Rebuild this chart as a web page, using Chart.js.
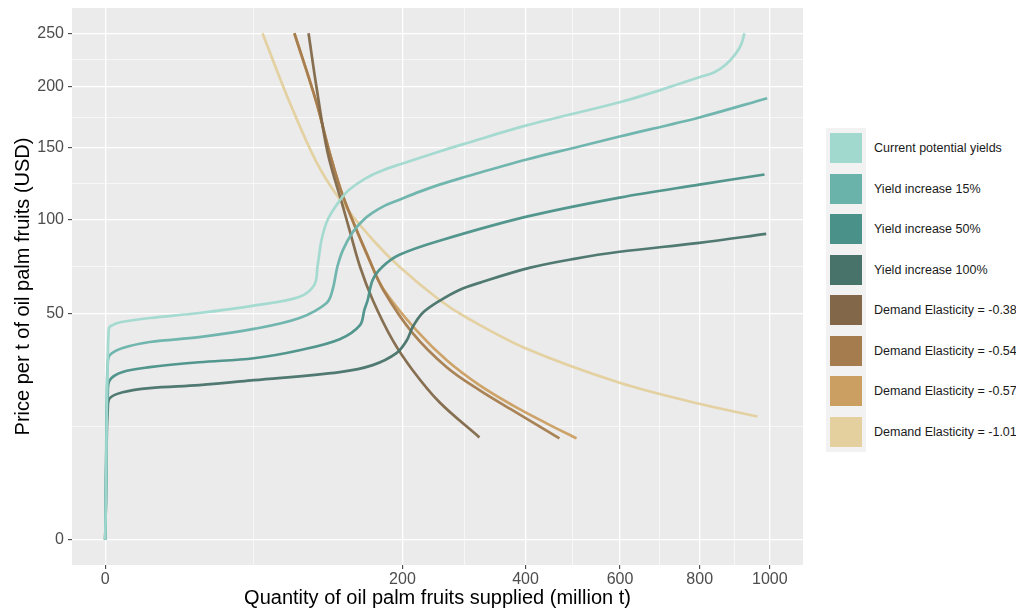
<!DOCTYPE html>
<html>
<head>
<meta charset="utf-8">
<title>Oil palm supply and demand</title>
<script src="https://cdn.jsdelivr.net/npm/chart.js@4.4.1/dist/chart.umd.min.js"></script>
<style>
html, body { margin:0; padding:0; background:#fff; overflow:hidden; }
body { width:1016px; height:611px; position:relative; font-family:"Liberation Sans", Arial, sans-serif; }
#wrap { position:absolute; left:0; top:0; width:810px; height:611px; }
#legend-bg { position:absolute; left:826px; top:128px; width:40px; height:324px; background:#f2f2f2; }
.key { position:absolute; left:830px; width:32px; height:30px; }
.lab { position:absolute; left:874px; font-size:12.5px; color:#1a1a1a; white-space:nowrap; line-height:30px; }
</style>
</head>
<body>
<div id="wrap"><canvas id="supplyChart" width="810" height="611"></canvas></div>
<div id="legend-bg"></div>
<div id="legend"></div>
<script>

/* ========================= */
/* DATA (million t, USD/t) */
/* ========================= */

const seriesNames = [
  "Current potential yields",
  "Yield increase 15%",
  "Yield increase 50%",
  "Yield increase 100%",
  "Demand Elasticity = -0.38",
  "Demand Elasticity = -0.54",
  "Demand Elasticity = -0.57",
  "Demand Elasticity = -1.01"
];

const seriesColors = [
  "#a1d9cf", "#6ab3ab", "#4a9189", "#48736a",
  "#826849", "#a57c4d", "#cb9f62", "#e4d09e"
];

const xTickValues = [0, 200, 400, 600, 800, 1000];
const yTickValues = [0, 50, 100, 150, 200, 250];

// supply curves
const qCurrent = [0, 0.001, 0.005, 0.014, 0.028, 0.046, 0.2, 0.6, 4.5, 20, 50, 85, 99, 102, 106, 112, 124.5, 135, 155, 177, 196, 253, 289, 402, 599, 703, 799, 840, 873, 899, 916, 925];
const pCurrent = [0, 1.5, 13.9, 31.4, 42.8, 44.2, 45.3, 46.2, 47.9, 50.1, 53.4, 57.4, 63.3, 72.6, 87.7, 99.8, 112.1, 119.5, 127.8, 133.6, 137.2, 146.9, 152.3, 167.3, 186.5, 197.7, 208.4, 213, 220.4, 229.8, 239.4, 250];

const q15 = [0, 0.001, 0.005, 0.014, 0.046, 0.69, 4.5, 20, 50, 85.5, 111, 117, 122, 128, 139, 150, 162, 177, 196, 224, 253, 289, 402, 509, 599, 799, 992];
const p15 = [0, 1.5, 18.9, 29.7, 33.2, 35.8, 38.1, 40.0, 43.3, 47.9, 54.6, 60.8, 72.6, 81.9, 92.4, 99.2, 104.2, 108.8, 112.7, 118.1, 122.9, 127.8, 140.9, 150.7, 158.5, 173.8, 190];

const q50 = [0, 0.001, 0.005, 0.014, 0.046, 0.69, 4.5, 20, 50, 85.5, 124.5, 147, 152, 156, 162, 174, 196, 253, 402, 599, 799, 984];
const p50 = [0, 1.5, 13.9, 20.3, 24.8, 27.4, 29.0, 30.7, 32.1, 35.0, 39.2, 44.9, 51.4, 56.0, 65.8, 72.6, 79.1, 87.1, 101.7, 114.1, 122.9, 130];

const q100 = [0, 0.001, 0.005, 0.014, 0.046, 0.69, 4.5, 20, 50, 124.5, 162, 192, 206, 214, 228, 253, 284, 317, 407, 498, 599, 799, 989];
const p100 = [0, 1.5, 9.6, 16.3, 19.5, 21.2, 22.4, 23.3, 24.8, 27.4, 29.7, 33.9, 38.8, 44.1, 50.1, 55.6, 60.8, 64.3, 72.0, 76.9, 80.8, 85.9, 91.2];

// demand curves
const qE038 = [93.6, 101, 112, 128, 135, 147, 162, 187, 214, 253, 317];
const pE038 = [250, 200, 146, 108, 93.7, 72.6, 56, 38.8, 28, 18.4, 10.2];

const qE054 = [81, 101, 114, 128, 158, 175, 214, 264, 317, 376, 467];
const pE054 = [250, 186.5, 146, 115, 76.3, 60.8, 41.6, 29.0, 21.8, 16.3, 10];

const qE057 = [81, 101, 114, 128, 158, 176, 219, 264, 317, 376, 441, 503];
const pE057 = [250, 186.5, 146, 115, 76.3, 60.8, 42.8, 31.4, 23.3, 17.6, 13.2, 10];

const qE101 = [56, 77, 101, 124.5, 162, 196, 253, 296, 402, 599, 799, 963];
const pE101 = [250, 186.5, 139, 113, 87.7, 72.6, 56, 48, 35.5, 24, 18, 14.8];

const seriesQ = [qCurrent, q15, q50, q100, qE038, qE054, qE057, qE101];
const seriesP = [pCurrent, p15, p50, p100, pE038, pE054, pE057, pE101];

/* ========================= */
/* SQRT AXES */
/* ========================= */

function sqrtTicks(values){

  const s = values.map(Math.sqrt);
  const out = [];

  s.forEach((v, i) => {
    out.push({ value: v, lab: String(values[i]), mj: true });
    if(i < s.length - 1){
      out.push({ value: (v + s[i + 1]) / 2, lab: "", mj: false });
    }
  });

  return out;
}

const FONT = "'Liberation Sans', Arial, sans-serif";

const panelBg = {
  id: "panelBg",
  beforeDraw(chart){
    const { ctx, chartArea: a } = chart;
    ctx.save();
    ctx.fillStyle = "#ebebeb";
    ctx.fillRect(a.left, a.top, a.right - a.left, a.bottom - a.top);
    ctx.restore();
  }
};

const datasets = seriesNames.map((name, i) => ({
  label: name,
  data: seriesQ[i].map((q, j) => ({ x: Math.sqrt(q), y: Math.sqrt(seriesP[i][j]) })),
  borderColor: seriesColors[i] + "f2",
  borderWidth: 2.7,
  pointRadius: 0,
  showLine: true,
  fill: false,
  tension: 0.35
}));

const gridOpts = {
  color: "#ffffff",
  lineWidth: ctx => (ctx.tick && ctx.tick.mj) ? 1.3 : 0.6,
  tickLength: 4,
  tickColor: ctx => (ctx.tick && ctx.tick.mj) ? "#333333" : "rgba(0,0,0,0)",
  tickWidth: 1
};

new Chart(document.getElementById("supplyChart"), {
  type: "scatter",
  data: { datasets: datasets },
  options: {
    responsive: false,
    animation: false,
    events: [],
    layout: { padding: { left: 0, top: 8, right: 7, bottom: 0 } },
    plugins: {
      legend: { display: false },
      tooltip: { enabled: false }
    },
    scales: {
      x: {
        type: "linear",
        min: -1.58,
        max: 33.2,
        afterBuildTicks: s => { s.ticks = sqrtTicks(xTickValues); },
        afterFit: s => {
          s.height = 46;
          s.paddingLeft = 0;
          s.paddingRight = 0;
        },
        border: { display: false },
        grid: gridOpts,
        ticks: {
          autoSkip: false,
          maxRotation: 0,
          padding: 1,
          color: "#4d4d4d",
          font: { family: FONT, size: 16 },
          callback: (v, i, t) => t[i].lab
        },
        title: {
          display: true,
          text: "Quantity of oil palm fruits supplied (million t)",
          color: "#000000",
          font: { family: FONT, size: 20 },
          padding: { top: 0, bottom: 1 }
        }
      },
      y: {
        type: "linear",
        min: -0.79,
        max: 16.6,
        afterBuildTicks: s => { s.ticks = sqrtTicks(yTickValues); },
        afterFit: s => {
          s.width = 72;
          s.paddingTop = 0;
          s.paddingBottom = 0;
        },
        border: { display: false },
        grid: gridOpts,
        ticks: {
          autoSkip: false,
          padding: 4,
          color: "#4d4d4d",
          font: { family: FONT, size: 16 },
          callback: (v, i, t) => t[i].lab
        },
        title: {
          display: true,
          text: "Price per t of oil palm fruits (USD)",
          color: "#000000",
          font: { family: FONT, size: 20 },
          padding: { top: 11, bottom: 0 }
        }
      }
    }
  },
  plugins: [panelBg]
});

/* ========================= */
/* LEGEND */
/* ========================= */

const legend = document.getElementById("legend");

seriesNames.forEach((name, i) => {

  const top = 128 + i * 40.5 + 5;

  const key = document.createElement("div");
  key.className = "key";
  key.style.top = top + "px";
  key.style.background = seriesColors[i];
  legend.appendChild(key);

  const lab = document.createElement("div");
  lab.className = "lab";
  lab.style.top = top + "px";
  lab.textContent = name;
  legend.appendChild(lab);

});

</script>
</body>
</html>
